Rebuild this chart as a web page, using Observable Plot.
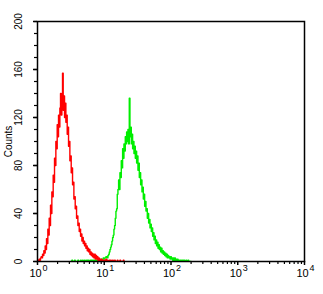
<!DOCTYPE html>
<html><head><meta charset="utf-8">
<script src="https://cdn.jsdelivr.net/npm/d3@7"></script>
<script src="https://cdn.jsdelivr.net/npm/@observablehq/plot@0.6"></script>
<style>body{margin:0;background:#fff}</style>
</head><body><div id="chart"></div>
<script>
// Histogram channels: log10 bin width and starting exponent of each series
const binStep = 0.01;
const redStartExp = 0.0;
const redCounts = [
0,1,0,2,1,3,4,3,6,5,
9,7,13,10,19,15,27,22,36,30,
47,40,58,54,72,66,86,80,100,94,
114,104,122,112,128,140,122,134,157,126,
138,120,132,116,122,106,112,96,100,84,
88,74,78,64,66,52,54,44,46,36,
38,30,32,25,27,21,23,17,20,15,
17,13,15,11,13,9,11,8,10,6,
8,5,7,4,6,3,6,2,5,2,
4,1,3,1,2,1,2,0,1,1,
0,1,0,2,0,1,0,0,1,0,
1,0,0,1,0,0,1,0,0,0,
1,0,0,0,1,0,0,0,0,1,
0];
const greenStartExp = 0.5;
const greenCounts = [
0,0,1,0,0,0,1,0,0,0,
0,1,0,0,0,1,0,0,1,0,
0,1,0,0,1,0,1,0,0,1,
0,1,0,1,0,1,0,1,1,0,
1,1,0,2,1,1,2,1,2,3,
2,3,3,4,4,3,5,6,8,10,
12,14,17,20,22,27,30,36,42,44,
56,60,68,60,74,70,84,78,94,86,
98,92,104,98,108,100,110,98,136,104,
112,98,106,94,100,90,96,86,92,82,
88,76,82,70,74,64,68,58,62,52,
56,46,50,42,44,36,40,32,35,28,
31,25,28,21,24,18,21,15,18,13,
16,11,14,10,12,8,11,7,9,6,
8,5,7,4,6,3,5,3,4,2,
4,2,3,1,3,1,3,1,2,1,
2,1,1,0,1,1,0,1,0,1,
1,0,0,1,0,0,1,0,0,0,
0];
const yTicks = [0, 40, 80, 120, 160, 200];
const yMinorTicks = [0,10,20,30,40,50,60,70,80,90,100,110,120,130,140,150,160,170,180,190,200];
const xDecades = [1, 10, 100, 1000, 10000];
const xBase = "10";
const xExponents = ["0", "1", "2", "3", "4"];
const yLabel = "Counts";

const red = redCounts.map((c, i) => ({x: Math.pow(10, redStartExp + i * binStep), y: c}));
const green = greenCounts.map((c, i) => ({x: Math.pow(10, greenStartExp + i * binStep), y: c}));
const xMinor = [];
for (const d of [1, 10, 100, 1000]) for (let k = 2; k <= 9; k++) xMinor.push(d * k);

const chart = Plot.plot({
  width: 323, height: 294,
  marginLeft: 37, marginRight: 19, marginTop: 21, marginBottom: 33,
  style: {fontFamily: "'Liberation Sans', Arial, sans-serif", fontSize: "10px", background: "#fff", color: "#000"},
  x: {type: "log", domain: [1, 10000], axis: null},
  y: {domain: [0, 200], axis: null},
  marks: [
    Plot.line(green, {x: "x", y: "y", stroke: "#00ee00", strokeWidth: 1.4, curve: "step", clip: true}),
    Plot.line(red, {x: "x", y: "y", stroke: "#ff0000", strokeWidth: 1.4, curve: "step", clip: true}),
    Plot.frame({stroke: "#000", strokeWidth: 1.5}),
    Plot.axisY({ticks: yMinorTicks, tickSize: 3, tickFormat: () => "", label: null, strokeWidth: 1.2}),
    Plot.axisY({ticks: yTicks, tickSize: 4, tickFormat: () => "", label: null, strokeWidth: 1.5}),
    Plot.axisX({ticks: xMinor, tickSize: 3, tickFormat: () => "", label: null, strokeWidth: 1.2}),
    Plot.axisX({ticks: xDecades, tickSize: 4, tickFormat: () => "", label: null, strokeWidth: 1.5}),
    Plot.text(yTicks, {y: d => d, text: d => String(d), frameAnchor: "left", dx: -19, rotate: -90, textAnchor: "middle", fontSize: 10}),
    Plot.text([yLabel], {text: d => d, frameAnchor: "left", dx: -29, rotate: -90, textAnchor: "middle", fontSize: 10}),
    Plot.text(xDecades, {x: d => d, text: () => xBase, frameAnchor: "bottom", dy: 15, dx: -2, fontSize: 11}),
    Plot.text(xDecades, {x: d => d, text: (d, i) => xExponents[i], frameAnchor: "bottom", dy: 9, dx: 5, textAnchor: "start", fontSize: 9})
  ]
});
document.getElementById("chart").appendChild(chart);
</script>
</body></html>
